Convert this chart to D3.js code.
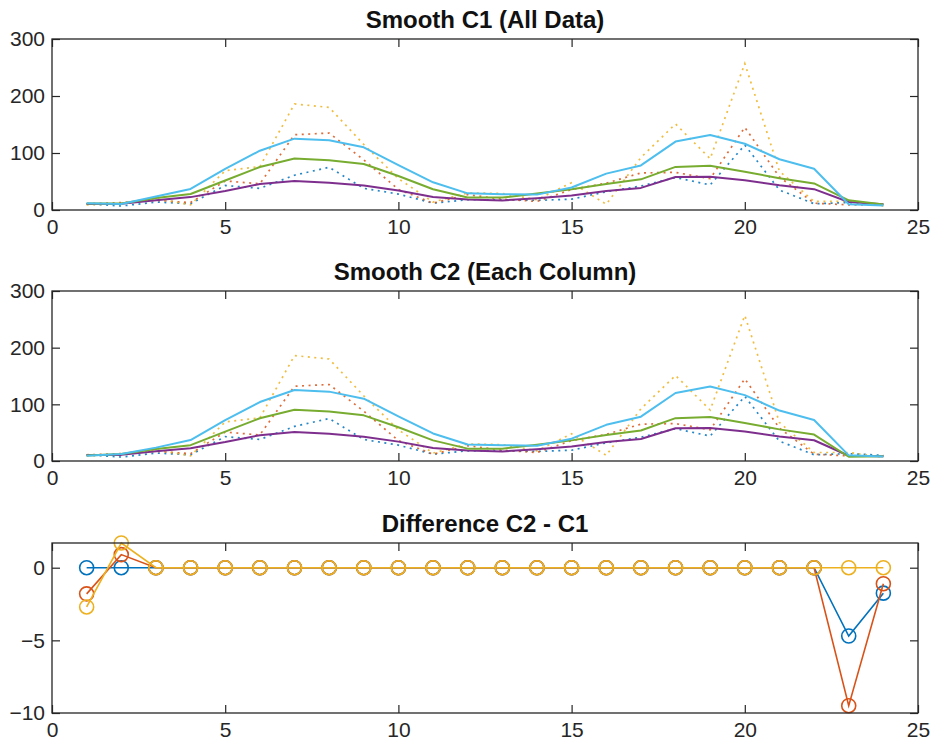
<!DOCTYPE html>
<html><head><meta charset="utf-8">
<script src="https://d3js.org/d3.v7.min.js"></script>
<style>body{margin:0;background:#fff;}svg{display:block;font-family:"Liberation Sans",Arial,sans-serif;}</style>
</head><body>
<script>
const xs = [1,2,3,4,5,6,7,8,9,10,11,12,13,14,15,16,17,18,19,20,21,22,23,24];
// raw counts (dotted)
const raw1 = [11,7,14,11,43,38,61,75,38,28,12,18,18,17,19,32,42,57,44,114,35,11,13,10];
const raw2 = [11,13,17,13,51,46,132,135,88,36,12,27,19,15,36,47,65,66,55,145,58,12,9,9];
const raw3 = [9,11,20,9,69,76,186,180,115,55,14,30,29,18,48,10,92,151,90,257,68,15,15,7];
// smoothed C1 (all data)
const c1a = [10.7,10.8,17.2,22.6,33.4,45.6,51,48,42.8,34.2,22.8,18.6,16.8,20.8,25.6,33.4,38.8,57.8,58.4,52.2,43.4,36.6,14,10];
const c1b = [11.5,11.5,21,28,51.8,75.4,90.4,87.4,80.6,59.6,36.4,21.8,21.8,28.8,36.4,45.8,53.8,75.6,77.8,67.2,55.8,46.6,17,9.5];
const c1c = [12,10.5,23.6,37,72,104,125.2,122.4,110,78.8,48.6,29.2,27.8,27,39.4,63.8,78.2,120,131.6,116.2,89,72.4,10,8];
// smoothed C2 (each column)
const c2a = [10.7,10.8,17.2,22.6,33.4,45.6,51,48,42.8,34.2,22.8,18.6,16.8,20.8,25.6,33.4,38.8,57.8,58.4,52.2,43.4,36.6,9.3,8.25];
const c2b = [9.7,12.4,21,28,51.8,75.4,90.4,87.4,80.6,59.6,36.4,21.8,21.8,28.8,36.4,45.8,53.8,75.6,77.8,67.2,55.8,46.6,7.5,8.4];
const c2c = [9.3,12.2,23.6,37,72,104,125.2,122.4,110,78.8,48.6,29.2,27.8,27,39.4,63.8,78.2,120,131.6,116.2,89,72.4,10,8];
// difference C2 - C1
const diff1 = [0,0,0,0,0,0,0,0,0,0,0,0,0,0,0,0,0,0,0,0,0,0,-4.7,-1.75];
const diff2 = [-1.8,0.9,0,0,0,0,0,0,0,0,0,0,0,0,0,0,0,0,0,0,0,0,-9.5,-1.1];
const diff3 = [-2.7,1.7,0,0,0,0,0,0,0,0,0,0,0,0,0,0,0,0,0,0,0,0,0,0];

const xTicks = [0,5,10,15,20,25];
const yTicksTop = [0,100,200,300];
const yTicksDiff = [-10,-5,0];
const titles = ["Smooth C1 (All Data)","Smooth C2 (Each Column)","Difference C2 - C1"];

const W = 933, H = 744;
const L = 52, R = 918;
const axCol = "#262626";
const col = {blue:"#0072BD", orange:"#D95319", yellow:"#EDB120", purple:"#7E2F8E", green:"#77AC30", cyan:"#4DBEEE"};

const svg = d3.select("body").append("svg").attr("width",W).attr("height",H);

function panel(top, bottom, yDomain, yTicks, title, drawFn){
  const x = d3.scaleLinear().domain([0,25]).range([L,R]);
  const y = d3.scaleLinear().domain(yDomain).range([bottom,top]);
  const g = svg.append("g");
  drawFn(g, x, y);
  const bx = g.append("g").attr("transform",`translate(0,${bottom})`)
    .call(d3.axisBottom(x).tickValues(xTicks).tickSize(-8).tickSizeOuter(0).tickPadding(9).tickFormat(d3.format("d")));
  const tx = g.append("g").attr("transform",`translate(0,${top})`)
    .call(d3.axisTop(x).tickValues(xTicks).tickSize(-8).tickSizeOuter(0).tickFormat(""));
  const ly = g.append("g").attr("transform",`translate(${L},0)`)
    .call(d3.axisLeft(y).tickValues(yTicks).tickSize(-8).tickSizeOuter(0).tickPadding(7).tickFormat(d3.format("d")));
  const ry = g.append("g").attr("transform",`translate(${R},0)`)
    .call(d3.axisRight(y).tickValues(yTicks).tickSize(-8).tickSizeOuter(0).tickFormat(""));
  [bx,tx,ly,ry].forEach(a=>{
    a.select(".domain").remove();
    a.selectAll(".tick line").attr("stroke",axCol).attr("stroke-width",1.2);
    a.selectAll(".tick text").attr("fill",axCol).style("font-size","21px").style("font-family",'"Liberation Sans",Arial,sans-serif');
  });
  g.append("rect").attr("x",L).attr("y",top).attr("width",R-L).attr("height",bottom-top)
    .attr("fill","none").attr("stroke",axCol).attr("stroke-width",1.3);
  g.append("text").attr("x",(L+R)/2).attr("y",top-11).attr("text-anchor","middle")
    .attr("fill","#111").style("font-size","24px").style("font-weight","bold").text(title);
}

function smoothPanel(top,bottom,title,s1,s2,s3){
  panel(top,bottom,[0,300],yTicksTop,title,(g,x,y)=>{
    const line = d3.line().x((d,i)=>x(xs[i])).y(d=>y(d));
    [[raw1,col.blue],[raw2,col.orange],[raw3,col.yellow]].forEach(([d,c])=>{
      g.append("path").datum(d).attr("d",line).attr("fill","none").attr("stroke",c)
        .attr("stroke-width",1.7).attr("stroke-dasharray","2,4.5").attr("stroke-opacity",0.85);
    });
    [[s1,col.purple],[s2,col.green],[s3,col.cyan]].forEach(([d,c])=>{
      g.append("path").datum(d).attr("d",line).attr("fill","none").attr("stroke",c)
        .attr("stroke-width",2).attr("stroke-linejoin","round");
    });
  });
}

smoothPanel(39,210,titles[0],c1a,c1b,c1c);
smoothPanel(291,461,titles[1],c2a,c2b,c2c);

panel(543,713,[-10,1.7],yTicksDiff,titles[2],(g,x,y)=>{
  const line = d3.line().x((d,i)=>x(xs[i])).y(d=>y(d));
  [[diff1,col.blue],[diff2,col.orange],[diff3,col.yellow]].forEach(([d,c])=>{
    g.append("path").datum(d).attr("d",line).attr("fill","none").attr("stroke",c).attr("stroke-width",1.6);
    g.selectAll(null).data(d).enter().append("circle")
      .attr("cx",(v,i)=>x(xs[i])).attr("cy",v=>y(v)).attr("r",7)
      .attr("fill","none").attr("stroke",c).attr("stroke-width",1.6);
  });
});
</script>
</body></html>
